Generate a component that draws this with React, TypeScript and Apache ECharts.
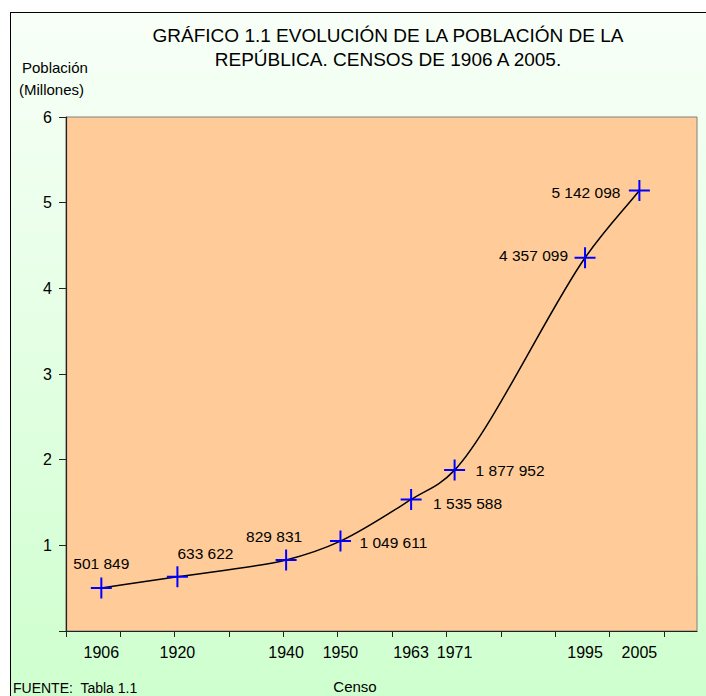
import React, { useEffect, useRef } from "react";
import * as echarts from "echarts";

const years = [1906, 1920, 1940, 1950, 1963, 1971, 1995, 2005];
const population = [501849, 633622, 829831, 1049611, 1535588, 1877952, 4357099, 5142098];
const xTickValues = [1899.5, 1909.5, 1919.5, 1929.5, 1939.5, 1949.5, 1959.5, 1969.5, 1979.5, 1989.5, 1999.5, 2009.5];
const titleLines = ["GRÁFICO 1.1 EVOLUCIÓN DE LA POBLACIÓN DE LA", "REPÚBLICA. CENSOS DE 1906 A 2005."];

// label placement (style only)
const labelPlacement: { align: string; offset: number[] }[] = [
  { align: "center", offset: [0, -25] },
  { align: "left", offset: [0, -23] },
  { align: "center", offset: [-12, -23] },
  { align: "left", offset: [19, 1] },
  { align: "left", offset: [22, 4] },
  { align: "left", offset: [21, 0] },
  { align: "right", offset: [-17, -2] },
  { align: "right", offset: [-19, 2] },
];

const FONT = "'Liberation Sans', Arial, sans-serif";

function fmt(n: number): string {
  return String(n).replace(/\B(?=(\d{3})+(?!\d))/g, " ");
}

// smoothed curve: centripetal Catmull-Rom converted to cubic Bezier
function smoothPath(pts: number[][]): string {
  const n = pts.length;
  const P = (i: number): number[] => {
    if (i < 0) return [2 * pts[0][0] - pts[1][0], 2 * pts[0][1] - pts[1][1]];
    if (i > n - 1) return [2 * pts[n - 1][0] - pts[n - 2][0], 2 * pts[n - 1][1] - pts[n - 2][1]];
    return pts[i];
  };
  const dd = (a: number[], b: number[]) => Math.sqrt(Math.hypot(b[0] - a[0], b[1] - a[1])) || 1e-6;
  let d = `M${pts[0][0]},${pts[0][1]}`;
  for (let i = 0; i < n - 1; i++) {
    const p0 = P(i - 1), p1 = P(i), p2 = P(i + 1), p3 = P(i + 2);
    const d1 = dd(p0, p1), d2 = dd(p1, p2), d3 = dd(p2, p3);
    const b1 = [0, 1].map(
      (k) => (d1 * d1 * p2[k] - d2 * d2 * p0[k] + (2 * d1 * d1 + 3 * d1 * d2 + d2 * d2) * p1[k]) / (3 * d1 * (d1 + d2))
    );
    const b2 = [0, 1].map(
      (k) => (d3 * d3 * p1[k] - d2 * d2 * p3[k] + (2 * d3 * d3 + 3 * d3 * d2 + d2 * d2) * p2[k]) / (3 * d3 * (d3 + d2))
    );
    d += ` C${b1[0]},${b1[1]} ${b2[0]},${b2[1]} ${p2[0]},${p2[1]}`;
  }
  return d;
}

export default function App() {
  const ref = useRef<HTMLDivElement>(null);
  useEffect(() => {
    if (!ref.current) return;
    const chart = echarts.init(ref.current, undefined, { renderer: "svg" });
    const values = years.map((y, i) => [y, population[i] / 1e6]);
    const data = years.map((y, i) => ({
      value: values[i],
      label: {
        show: true,
        position: "inside",
        align: labelPlacement[i].align,
        verticalAlign: "middle",
        offset: labelPlacement[i].offset,
        formatter: fmt(population[i]),
      },
    }));
    chart.setOption({
      animation: false,
      backgroundColor: "transparent",
      textStyle: { fontFamily: FONT },
      grid: {
        left: 66,
        right: 9,
        top: 117,
        bottom: 65,
        show: true,
        backgroundColor: "#FFCC99",
        borderColor: "#808080",
        borderWidth: 1,
      },
      xAxis: {
        type: "value",
        min: 1899.5,
        max: 2015.6,
        splitLine: { show: false },
        axisLine: { show: true, lineStyle: { color: "#222", width: 1.2 } },
        axisTick: { show: true, length: 6, lineStyle: { color: "#222" }, customValues: xTickValues },
        axisLabel: {
          customValues: years,
          color: "#000",
          fontSize: 16,
          fontFamily: FONT,
          margin: 13,
          formatter: (v: number) => String(v),
        },
      },
      yAxis: {
        type: "value",
        min: 0,
        max: 6,
        interval: 1,
        splitLine: { show: false },
        axisLine: { show: true, lineStyle: { color: "#222", width: 1.2 } },
        axisTick: { show: true, length: 7, lineStyle: { color: "#222" } },
        axisLabel: {
          color: "#000",
          fontSize: 16,
          fontFamily: FONT,
          margin: 14,
          formatter: (v: number) => (v === 0 ? "" : String(v)),
        },
      },
      graphic: [
        {
          type: "text",
          x: 388,
          y: 23,
          style: {
            text: titleLines.join("\n"),
            font: `19px ${FONT}`,
            fill: "#000",
            textAlign: "center",
            lineHeight: 24,
          },
        },
        { type: "text", x: 22, y: 60, style: { text: "Población", font: `15px ${FONT}`, fill: "#000" } },
        { type: "text", x: 19, y: 82, style: { text: "(Millones)", font: `15px ${FONT}`, fill: "#000" } },
        { type: "text", x: 355, y: 686, style: { text: "Censo", font: `15px ${FONT}`, fill: "#000", textAlign: "center", textVerticalAlign: "middle" } },
        { type: "text", x: 13, y: 688, style: { text: "FUENTE:  Tabla 1.1", font: `14px ${FONT}`, fill: "#000", textVerticalAlign: "middle" } },
      ],
      series: [
        {
          type: "custom",
          data: values,
          z: 2,
          silent: true,
          renderItem: (params: any, api: any) => {
            if (params.dataIndex !== 0) return null;
            const pts = values.map((v) => api.coord(v));
            return {
              type: "path",
              shape: { pathData: smoothPath(pts) },
              style: { fill: "none", stroke: "#000", lineWidth: 1.5 },
            };
          },
        },
        {
          type: "line",
          data,
          symbol: "path://M10 0L10 20M0 10L20 10",
          symbolSize: 21,
          itemStyle: { color: "#0000FF", borderColor: "#0000FF", borderWidth: 2 },
          lineStyle: { opacity: 0, width: 0 },
          label: { color: "#000", fontSize: 15.5, fontFamily: FONT },
          z: 3,
        },
      ],
    });
    return () => chart.dispose();
  }, []);
  return (
    <div style={{ position: "fixed", left: 0, top: 0, width: 706, height: 696, background: "#fff", overflow: "hidden" }}>
      <div
        style={{
          position: "absolute",
          left: 10,
          top: 12,
          width: 720,
          height: 720,
          borderLeft: "1.5px solid #000",
          borderTop: "1.5px solid #000",
          background: "linear-gradient(to bottom, #F8FFF8 0%, #CCFFCC 100%)",
        }}
      />
      <div ref={ref} style={{ position: "absolute", left: 0, top: 0, width: 706, height: 696 }} />
    </div>
  );
}
